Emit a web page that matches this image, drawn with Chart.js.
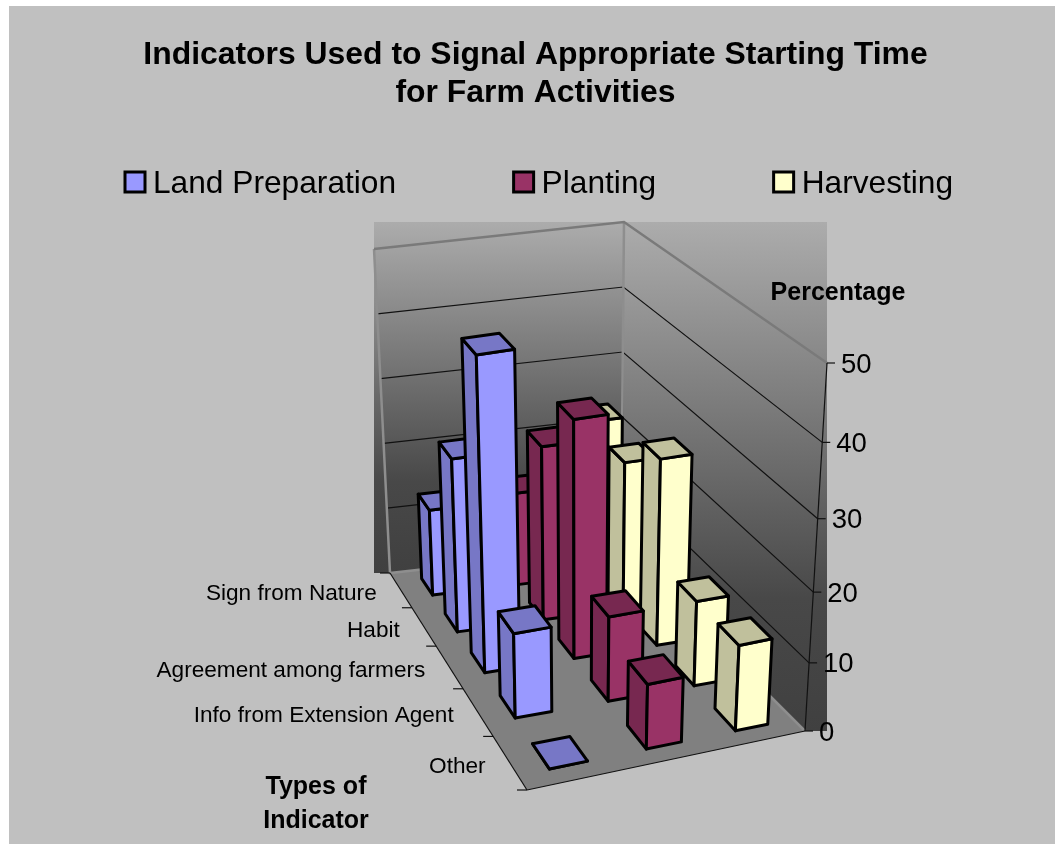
<!DOCTYPE html>
<html>
<head>
<meta charset="utf-8">
<title>Farm Activity Indicators</title>
<script src="https://cdn.jsdelivr.net/npm/chart.js@4"></script>
<style>
  html, body { margin: 0; padding: 0; background: #fff; }
  canvas { display: block; }
</style>
</head>
<body>
<canvas id="chart" width="1055" height="844"></canvas>
<script>
const titleLines = ["Indicators Used to Signal Appropriate Starting Time", "for Farm Activities"];
const categories = ["Sign from Nature", "Habit", "Agreement among farmers", "Info from Extension Agent", "Other"];
const seriesNames = ["Land Preparation", "Planting", "Harvesting"];
const landPreparation = [13, 26, 46, 12.5, 0];
const planting = [14, 26, 35, 12.5, 9.5];
const harvesting = [23.5, 22, 27.5, 12.5, 12.5];
const valueTitle = "Percentage";
const categoryTitle = ["Types of", "Indicator"];

const seriesColors = ["#9999ff", "#993366", "#ffffcc"];
const seriesShades = ["#7777c6", "#772850", "#c0c09c"];
const font = "'Liberation Sans', Arial, sans-serif";

// box corners on the canvas: back-left, back-right, front-right, front-left
const floorQuad = [[390, 573], [621, 547], [805, 731], [527, 790]];
const lidQuad = [[374, 249], [624, 222], [827, 363], [521, 421]];

// unit square to a quad
function quadMatrix(quad) {
  const [[x0, y0], [x1, y1], [x2, y2], [x3, y3]] = quad;
  const dx1 = x1 - x2, dx2 = x3 - x2, dx3 = x0 - x1 + x2 - x3;
  const dy1 = y1 - y2, dy2 = y3 - y2, dy3 = y0 - y1 + y2 - y3;
  const det = dx1 * dy2 - dx2 * dy1;
  const g = (dx3 * dy2 - dx2 * dy3) / det;
  const h = (dx1 * dy3 - dx3 * dy1) / det;
  return [x1 - x0 + g * x1, x3 - x0 + h * x3, x0, y1 - y0 + g * y1, y3 - y0 + h * y3, y0, g, h];
}
function applyQuad(m, u, v) {
  const w = m[6] * u + m[7] * v + 1;
  return [(m[0] * u + m[1] * v + m[2]) / w, (m[3] * u + m[4] * v + m[5]) / w];
}
const floorM = quadMatrix(floorQuad);
const lidM = quadMatrix(lidQuad);

// u across the series, v from back to front, t = share of the value axis
function project(u, v, t) {
  const base = applyQuad(floorM, u, v);
  const lid = applyQuad(lidM, u, v);
  // value steps shrink a little going up near the front of the box
  const f = t / (1 + 0.1 * v * (1 - t));
  return [base[0] + (lid[0] - base[0]) * f, base[1] + (lid[1] - base[1]) * f];
}

function poly(ctx, pts) {
  ctx.beginPath();
  pts.forEach((p, i) => (i ? ctx.lineTo(p[0], p[1]) : ctx.moveTo(p[0], p[1])));
  ctx.closePath();
}

function line(ctx, a, b) {
  ctx.beginPath();
  ctx.moveTo(a[0], a[1]);
  ctx.lineTo(b[0], b[1]);
  ctx.stroke();
}

// each wall shades its own bounding box, which shows past the slanted edges
function wallFill(ctx, pts) {
  const xs = pts.map((p) => p[0]), ys = pts.map((p) => p[1]);
  const left = Math.min(...xs), top = Math.min(...ys);
  const right = Math.max(...xs), bottom = Math.max(...ys);
  const grad = ctx.createLinearGradient(0, top, 0, bottom);
  grad.addColorStop(0, "#acacac");
  grad.addColorStop(0.74, "#484848");
  grad.addColorStop(1, "#404040");
  ctx.fillStyle = grad;
  ctx.fillRect(left, top, right - left, bottom - top);
}

function drawWalls(ctx, chart) {
  const yScale = chart.scales.y;
  const share = (val) => (yScale.bottom - yScale.getPixelForValue(val)) / yScale.height;
  const bl = (t) => project(0, 0, t), br = (t) => project(1, 0, t), fr = (t) => project(1, 1, t);

  wallFill(ctx, [br(0), br(1), fr(0), fr(1)]);
  wallFill(ctx, [bl(0), bl(1), br(0), br(1)]);

  ctx.fillStyle = "#808080";
  poly(ctx, [bl(0), br(0), fr(0), project(0, 1, 0)]);
  ctx.fill();

  // gridlines run along both walls
  ctx.strokeStyle = "#111";
  ctx.lineWidth = 1.2;
  yScale.ticks.forEach((tick) => {
    const t = share(tick.value);
    if (t <= 0 || t >= 1) return;
    ctx.beginPath();
    ctx.moveTo(...bl(t));
    ctx.lineTo(...br(t));
    ctx.lineTo(...fr(t));
    ctx.stroke();
  });

  // wall outline: corners and floor edges read lighter than the top edge
  ctx.lineWidth = 2.5;
  ctx.strokeStyle = "#8e8e8e";
  ctx.beginPath();
  ctx.moveTo(...bl(1));
  ctx.lineTo(...bl(0));
  ctx.lineTo(...br(0));
  ctx.lineTo(...fr(0));
  ctx.moveTo(...br(1));
  ctx.lineTo(...br(0));
  ctx.stroke();
  ctx.strokeStyle = "#7a7a7a";
  ctx.beginPath();
  ctx.moveTo(...bl(1));
  ctx.lineTo(...br(1));
  ctx.lineTo(...fr(1));
  ctx.stroke();
}

function drawAxes(ctx, chart) {
  const xScale = chart.scales.x, yScale = chart.scales.y;
  ctx.strokeStyle = "#111";
  ctx.lineWidth = 1.2;
  ctx.fillStyle = "#000";

  // value axis on the front-right edge
  line(ctx, project(1, 1, 0), project(1, 1, 1));
  ctx.font = "27.5px " + font;
  ctx.textAlign = "left";
  ctx.textBaseline = "middle";
  yScale.ticks.forEach((tick) => {
    const t = (yScale.bottom - yScale.getPixelForValue(tick.value)) / yScale.height;
    const p = project(1, 1, t);
    line(ctx, p, [p[0] + 8, p[1]]);
    ctx.fillText(tick.label, p[0] + 14, p[1] + 2);
  });

  // category axis on the left floor edge, front edge has no ticks
  line(ctx, project(0, 0, 0), project(0, 1, 0));
  line(ctx, project(0, 1, 0), project(1, 1, 0));
  const n = categories.length;
  for (let i = 0; i <= n; i++) {
    const p = project(0, i / n, 0);
    line(ctx, [p[0] - 10, p[1]], p);
  }
  ctx.font = "22.6px " + font;
  ctx.textAlign = "right";
  categories.forEach((name, i) => {
    const v = (xScale.getPixelForValue(i) - xScale.left) / xScale.width;
    const p = project(0, v, 0);
    ctx.fillText(name, p[0] - 24, p[1] + 4);
  });

  ctx.font = "bold 25px " + font;
  ctx.textAlign = "center";
  ctx.fillText(valueTitle, 838, 293);
  ctx.fillText(categoryTitle[0], 316, 787);
  ctx.fillText(categoryTitle[1], 316, 821);
}

function drawBar(ctx, uc, vc, t, front, shade) {
  const halfU = 0.064, halfV = 0.048;
  const u0 = uc - halfU, u1 = uc + halfU, v0 = vc - halfV, v1 = vc + halfV;
  const fl = (h) => project(u0, v1, h), fr = (h) => project(u1, v1, h);
  const bl = (h) => project(u0, v0, h), br = (h) => project(u1, v0, h);
  ctx.strokeStyle = "#000";
  ctx.lineWidth = 3;
  ctx.lineJoin = "round";
  // left side, front, then the lid
  [[[bl(0), fl(0), fl(t), bl(t)], shade], [[fl(0), fr(0), fr(t), fl(t)], front], [[bl(t), fl(t), fr(t), br(t)], shade]]
    .forEach(([pts, color]) => {
      ctx.fillStyle = color;
      poly(ctx, pts);
      ctx.fill();
      ctx.stroke();
    });
}

function drawBars(ctx, chart) {
  const xScale = chart.scales.x, yScale = chart.scales.y, serScale = chart.scales.series;
  // back row first, and right to left since the left faces show
  categories.forEach((name, i) => {
    const vc = (xScale.getPixelForValue(i) - xScale.left) / xScale.width;
    for (let s = seriesNames.length - 1; s >= 0; s--) {
      const ds = chart.data.datasets[s];
      const uc = (serScale.getPixelForValue(s) - serScale.left) / serScale.width;
      const t = (yScale.bottom - yScale.getPixelForValue(ds.data[i])) / yScale.height;
      drawBar(ctx, uc, vc, t, ds.backgroundColor, seriesShades[s]);
    }
  });
}

// items are spread further apart than the built-in legend can lay out in one row
function drawLegend(ctx) {
  const boxSize = 20, boxGap = 8, itemGap = 117.5, y = 183;
  ctx.font = "31.7px " + font;
  ctx.textAlign = "left";
  ctx.textBaseline = "middle";
  let x = 125;
  seriesNames.forEach((name, i) => {
    ctx.fillStyle = seriesColors[i];
    ctx.strokeStyle = "#000";
    ctx.lineWidth = 3;
    ctx.fillRect(x, y - boxSize / 2 - 1, boxSize, boxSize);
    ctx.strokeRect(x, y - boxSize / 2 - 1, boxSize, boxSize);
    ctx.fillStyle = "#000";
    ctx.fillText(name, x + boxSize + boxGap, y + 1);
    x += boxSize + boxGap + ctx.measureText(name).width + itemGap;
  });
}

const boxPlugin = {
  id: "box3d",
  beforeDraw(chart) {
    const ctx = chart.ctx;
    ctx.save();
    ctx.fillStyle = "#c0c0c0";
    ctx.fillRect(9, 6, chart.width - 9, chart.height - 6);
    ctx.restore();
  },
  // the flat bars are replaced by the projected scene
  beforeDatasetsDraw(chart) {
    const ctx = chart.ctx;
    ctx.save();
    drawLegend(ctx);
    drawWalls(ctx, chart);
    drawAxes(ctx, chart);
    drawBars(ctx, chart);
    ctx.restore();
    return false;
  }
};

new Chart(document.getElementById("chart").getContext("2d"), {
  type: "bar",
  data: {
    labels: categories,
    datasets: [
      { label: seriesNames[0], data: landPreparation, backgroundColor: seriesColors[0] },
      { label: seriesNames[1], data: planting, backgroundColor: seriesColors[1] },
      { label: seriesNames[2], data: harvesting, backgroundColor: seriesColors[2] }
    ]
  },
  plugins: [boxPlugin],
  options: {
    responsive: false,
    animation: false,
    events: [],
    layout: { padding: { top: 36, left: 16 } },
    scales: {
      x: { display: false, offset: true },
      series: { type: "category", axis: "x", labels: seriesNames, display: false, offset: true },
      y: { display: false, min: 0, max: 50, ticks: { stepSize: 10 } }
    },
    plugins: {
      legend: { display: false },
      tooltip: { enabled: false },
      title: {
        display: true,
        text: titleLines,
        color: "#000",
        padding: 0,
        font: { family: font, size: 31.9, weight: "bold", lineHeight: 1.19 }
      }
    }
  }
});
</script>
</body>
</html>
